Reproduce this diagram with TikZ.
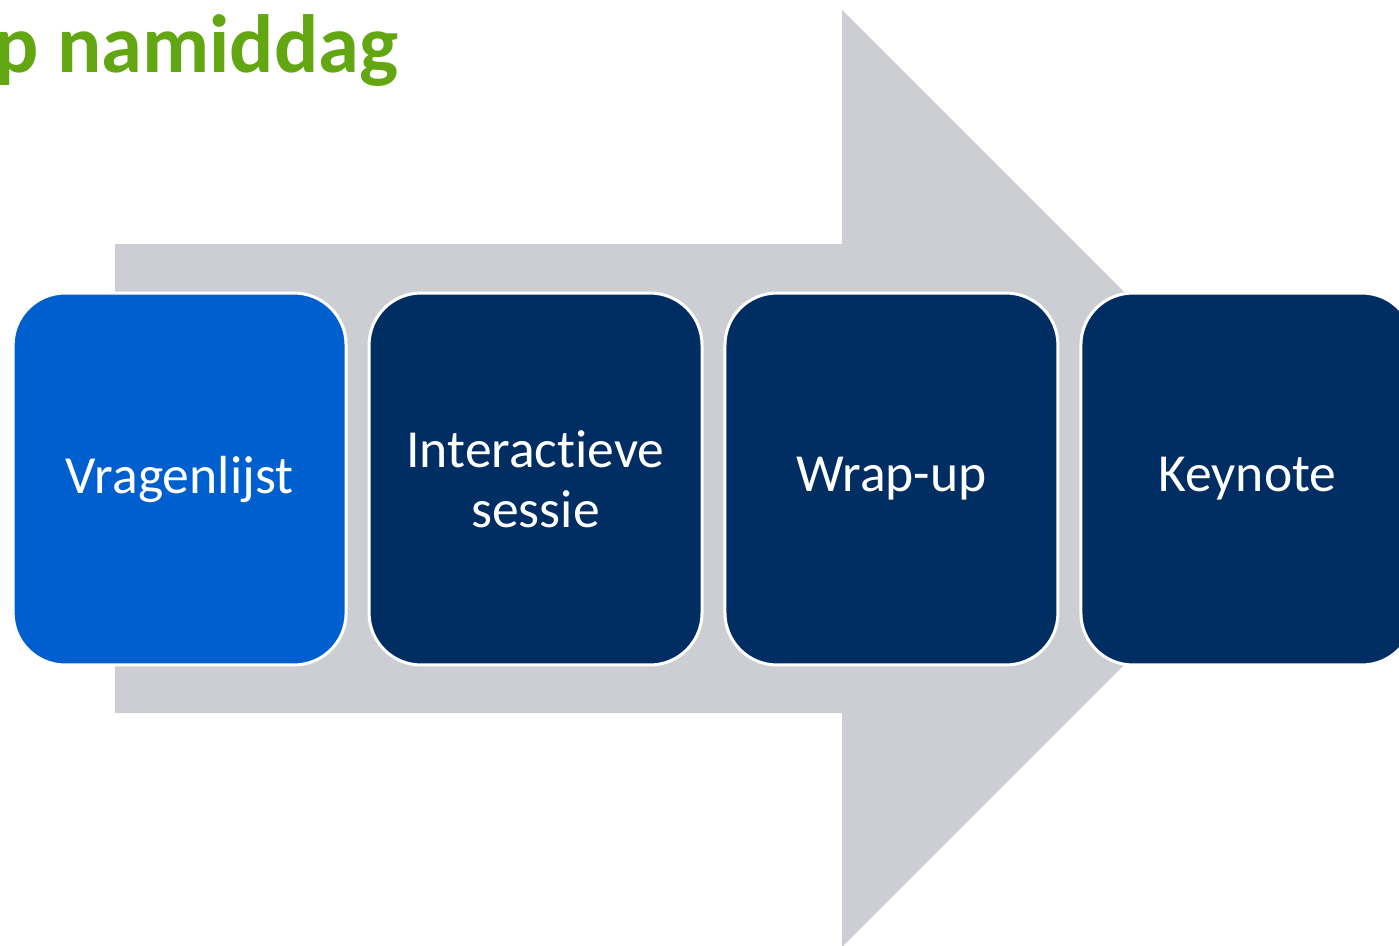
\documentclass[tikz,border=0pt]{standalone}
\usepackage{fontspec}
\setmainfont{Carlito}[Ligatures=NoCommon]
\usepackage{tikz}
\usetikzlibrary{matrix}
\definecolor{arrowgrey}{RGB}{205,206,211}
\definecolor{stagenavy}{RGB}{0,45,98}
\definecolor{stageblue}{RGB}{0,95,206}
\definecolor{titlegreen}{RGB}{98,167,18}
\tikzset{>=latex}
\tikzset{stage/.style={draw=white, line width=0.06cm, fill=stagenavy, rounded corners=1.04cm,
  minimum width=6.66cm, minimum height=7.44cm, inner sep=0pt, text width=6cm, align=center,
  anchor=center, text=white, font=\fontsize{30.5}{34.2}\selectfont}}
\begin{document}
\begin{tikzpicture}[x=0.02cm, y=-0.02cm]
\useasboundingbox (0,0) rectangle (1399,946);
\node[anchor=base west, inner sep=0pt, text=titlegreen, font=\fontsize{47}{52}\selectfont\bfseries]
  (title) at (-6,72) {p namiddag};
\fill[arrowgrey] (115,244) -- (842,244) -- (842,10) -- (1310.5,478.5) -- (842,947)
  -- (842,713) -- (115,713) -- cycle;
\matrix (m) 
[matrix of nodes, column sep=0.4cm, nodes={stage}, anchor=center] at (713.5,479)
{
 |[fill=stageblue]| Vragenlijst & Interactieve sessie & Wrap-up & Keynote \\
};
\end{tikzpicture}
\end{document}
